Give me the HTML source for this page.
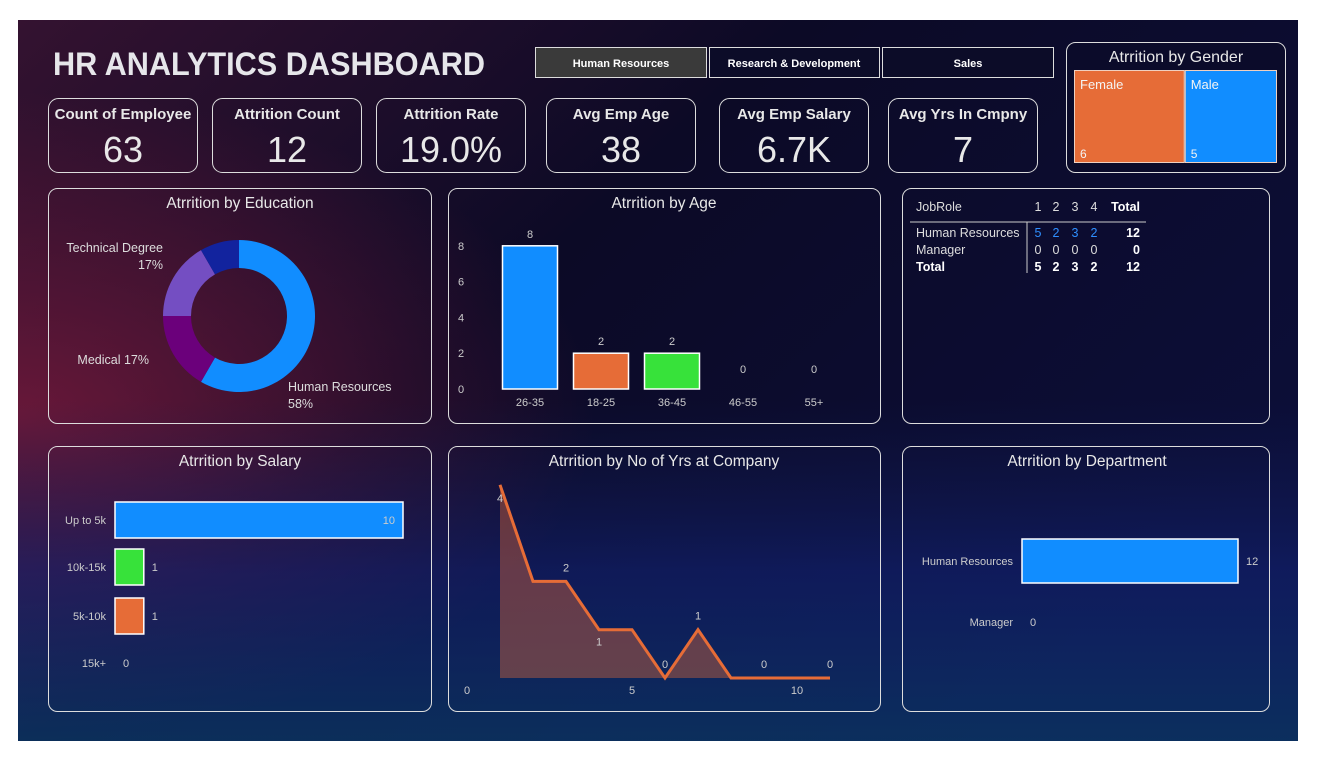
<!DOCTYPE html>
<html><head><meta charset="utf-8"><style>
html,body{margin:0;padding:0;background:#fff;}
svg{display:block;font-family:"Liberation Sans","DejaVu Sans",sans-serif;}
</style></head><body>
<svg id="dash" width="1320" height="763" viewBox="0 0 1320 763">
<defs>
<linearGradient id="bg" x1="0" y1="0" x2="1" y2="0.6">
<stop offset="0" stop-color="#341230"/><stop offset="0.45" stop-color="#0c0a26"/><stop offset="1" stop-color="#0c0e38"/>
</linearGradient>
<radialGradient id="glowL" cx="0" cy="0.55" r="0.45">
<stop offset="0" stop-color="#7a1a3c" stop-opacity="0.8"/><stop offset="1" stop-color="#7a1a3c" stop-opacity="0"/>
</radialGradient>
<linearGradient id="bottom" x1="0" y1="0" x2="0" y2="1">
<stop offset="0" stop-color="#10205a" stop-opacity="0"/><stop offset="0.5" stop-color="#12257a" stop-opacity="0.55"/><stop offset="1" stop-color="#0b3a6a" stop-opacity="0.75"/>
</linearGradient>
</defs>
<rect x="18" y="20" width="1280" height="721" fill="url(#bg)"/>
<rect x="18" y="20" width="1280" height="721" fill="url(#glowL)"/>
<rect x="18" y="400" width="1280" height="341" fill="url(#bottom)"/>

<text x="53" y="75" font-size="32" font-weight="bold" fill="#e6e6ea" textLength="432" lengthAdjust="spacingAndGlyphs">HR ANALYTICS DASHBOARD</text>

<g>
<g><rect x="535.5" y="47.5" width="171" height="30" fill="#3a3a3a" stroke="#ddd"/><text x="621" y="67" font-size="11" font-weight="bold" fill="#fff" text-anchor="middle">Human Resources</text></g>
<g><rect x="709.5" y="47.5" width="170" height="30" fill="#0c0c28" stroke="#ddd"/><text x="794" y="67" font-size="11" font-weight="bold" fill="#fff" text-anchor="middle">Research &amp; Development</text></g>
<g><rect x="882.5" y="47.5" width="171" height="30" fill="#0c0c28" stroke="#ddd"/><text x="968" y="67" font-size="11" font-weight="bold" fill="#fff" text-anchor="middle">Sales</text></g>
</g>

<g id="kpis"></g>

<g>
<rect x="1066.5" y="42.5" width="219" height="130" rx="9" fill="#0b0b2a" stroke="#ddd"/>
<text x="1176" y="62" font-size="16" fill="#e8e8e8" text-anchor="middle">Atrrition by Gender</text>
<g id="gender"></g>
</g>

<g>
<rect x="48.5" y="188.5" width="383" height="235" rx="9" fill="none" stroke="#ddd"/>
<text x="240" y="208" font-size="15.5" fill="#e8e8e8" text-anchor="middle">Atrrition by Education</text>
<g id="donut"></g>
</g>

<g>
<rect x="448.5" y="188.5" width="432" height="235" rx="9" fill="none" stroke="#ddd"/>
<text x="664" y="208" font-size="15.5" fill="#e8e8e8" text-anchor="middle">Atrrition by Age</text>
<g id="age"></g>
</g>

<g>
<rect x="902.5" y="188.5" width="367" height="235" rx="9" fill="none" stroke="#ddd"/>
<g font-size="12.5" fill="#ddd">
<text x="916" y="211">JobRole</text>
<text x="1038" y="211" text-anchor="middle">1</text><text x="1056" y="211" text-anchor="middle">2</text><text x="1075" y="211" text-anchor="middle">3</text><text x="1094" y="211" text-anchor="middle">4</text>
<text x="1140" y="211" text-anchor="end" font-weight="bold" fill="#fff">Total</text>
<line x1="910" y1="222" x2="1146" y2="222" stroke="#ccc"/>
<line x1="1027" y1="222" x2="1027" y2="273" stroke="#ccc"/>
<text x="916" y="237">Human Resources</text>
<g fill="#2f8fff"><text x="1038" y="237" text-anchor="middle">5</text><text x="1056" y="237" text-anchor="middle">2</text><text x="1075" y="237" text-anchor="middle">3</text><text x="1094" y="237" text-anchor="middle">2</text></g>
<text x="1140" y="237" text-anchor="end" font-weight="bold" fill="#fff">12</text>
<text x="916" y="254">Manager</text>
<text x="1038" y="254" text-anchor="middle">0</text><text x="1056" y="254" text-anchor="middle">0</text><text x="1075" y="254" text-anchor="middle">0</text><text x="1094" y="254" text-anchor="middle">0</text>
<text x="1140" y="254" text-anchor="end" font-weight="bold" fill="#fff">0</text>
<g font-weight="bold" fill="#fff"><text x="916" y="271">Total</text>
<text x="1038" y="271" text-anchor="middle">5</text><text x="1056" y="271" text-anchor="middle">2</text><text x="1075" y="271" text-anchor="middle">3</text><text x="1094" y="271" text-anchor="middle">2</text>
<text x="1140" y="271" text-anchor="end">12</text></g>
</g>
</g>

<g>
<rect x="48.5" y="446.5" width="383" height="265" rx="9" fill="none" stroke="#ddd"/>
<text x="240" y="466" font-size="15.5" fill="#e8e8e8" text-anchor="middle">Atrrition by Salary</text>
<g id="salary"></g>
</g>

<g>
<rect x="448.5" y="446.5" width="432" height="265" rx="9" fill="none" stroke="#ddd"/>
<text x="664" y="466" font-size="15.5" fill="#e8e8e8" text-anchor="middle">Atrrition by No of Yrs at Company</text>
<g id="years"></g>
</g>

<g>
<rect x="902.5" y="446.5" width="367" height="265" rx="9" fill="none" stroke="#ddd"/>
<text x="1087" y="466" font-size="15.5" fill="#e8e8e8" text-anchor="middle">Atrrition by Department</text>
<g id="dept"></g>
</g>
</svg>
<script>
const kpiLabels=["Count of Employee","Attrition Count","Attrition Rate","Avg Emp Age","Avg Emp Salary","Avg Yrs In Cmpny"];
const kpiValues=["63","12","19.0%","38","6.7K","7"];
const genderCats=["Female","Male"];
const genderVals=[6,5];
const eduCats=["Human Resources","Medical","Technical Degree","Other"];
const eduVals=[7,2,2,1];
const ageCats=["26-35","18-25","36-45","46-55","55+"];
const ageVals=[8,2,2,0,0];
const ageTicks=[0,2,4,6,8];
const salaryCats=["Up to 5k","10k-15k","5k-10k","15k+"];
const salaryVals=[10,1,1,0];
const yearsX=[1,2,3,4,5,6,7,8,9,10,11];
const yearsVals=[4,2,2,1,1,0,1,0,0,0,0];
const yearsTicks=[0,5,10];
const deptCats=["Human Resources","Manager"];
const deptVals=[12,0];

const NS="http://www.w3.org/2000/svg";
function mk(parent,tag,attrs,txt){const e=document.createElementNS(NS,tag);for(const k in attrs)e.setAttribute(k,attrs[k]);if(txt!==undefined)e.textContent=txt;parent.appendChild(e);return e;}
const BLUE="#118DFF",ORANGE="#E66C37",GREEN="#37E23A";

const kx=[48,212,376,546,719,888];
const kg=document.getElementById('kpis');
kpiLabels.forEach((l,i)=>{
 const g=mk(kg,'g',{});
 
 
 mk(g,'rect',{x:kx[i]+.5,y:98.5,width:149,height:74,rx:10,fill:'none',stroke:'#ddd'});
 mk(g,'text',{x:kx[i]+75,y:119,'font-size':15,'font-weight':'bold',fill:'#e8e8e8','text-anchor':'middle'},l);
 mk(g,'text',{x:kx[i]+75,y:162,'font-size':36,fill:'#e8e8e8','text-anchor':'middle'},kpiValues[i]);
});

const gg=document.getElementById('gender');
const gTot=genderVals.reduce((a,b)=>a+b,0);const gW=203;let gx=1074;
genderVals.forEach((v,i)=>{
 const w=gW*v/gTot;
 const r=mk(gg,'rect',{x:gx+.5,y:70.5,width:w-1,height:92,fill:i?BLUE:ORANGE,stroke:'#f0d0c0'});
 
 
 mk(gg,'text',{x:gx+6,y:89,'font-size':13,fill:'#f4f4f4'},genderCats[i]);
 mk(gg,'text',{x:gx+6,y:158,'font-size':12,fill:'#f4f4f4'},v);
 gx+=w;
});

const dg=document.getElementById('donut');
const cx=239,cy=316,R=76,r0=48;const eTot=eduVals.reduce((a,b)=>a+b,0);
const eCols=[BLUE,"#6B007B","#744EC2","#12239E"];
let a0=-Math.PI/2;
eduVals.forEach((v,i)=>{
 const a1=a0+2*Math.PI*v/eTot;const big=(a1-a0)>Math.PI?1:0;
 const p=(a,rr)=>[cx+rr*Math.cos(a),cy+rr*Math.sin(a)];
 const [x1,y1]=p(a0,R),[x2,y2]=p(a1,R),[x3,y3]=p(a1,r0),[x4,y4]=p(a0,r0);
 const s=mk(dg,'path',{d:`M${x1},${y1}A${R},${R} 0 ${big} 1 ${x2},${y2}L${x3},${y3}A${r0},${r0} 0 ${big} 0 ${x4},${y4}Z`,fill:eCols[i]});
 
 
 a0=a1;
});
const pct=v=>Math.round(100*v/eTot)+'%';
mk(dg,'text',{x:288,y:391,'font-size':12.5,fill:'#ddd'},eduCats[0]);
mk(dg,'text',{x:288,y:408,'font-size':12.5,fill:'#ddd'},pct(eduVals[0]));
mk(dg,'text',{x:149,y:364,'font-size':12.5,fill:'#ddd','text-anchor':'end'},eduCats[1]+' '+pct(eduVals[1]));
mk(dg,'text',{x:163,y:252,'font-size':12.5,fill:'#ddd','text-anchor':'end'},eduCats[2]);
mk(dg,'text',{x:163,y:269,'font-size':12.5,fill:'#ddd','text-anchor':'end'},pct(eduVals[2]));

const ag=document.getElementById('age');
const aBase=389,aScale=17.9,ay=v=>aBase-v*aScale,ax=i=>530+i*71;
ageTicks.forEach(t=>mk(ag,'text',{x:461,y:ay(t)+4,'font-size':11,fill:'#ccc','text-anchor':'middle'},t));
const aCols=[BLUE,ORANGE,GREEN,GREEN,GREEN];
ageVals.forEach((v,i)=>{
 if(v>0){const b=mk(ag,'rect',{x:ax(i)-27.5,y:ay(v),width:55,height:v*aScale,fill:aCols[i],stroke:'#fff','stroke-width':1.5});
 
 }
 mk(ag,'text',{x:ax(i),y:(v>0?ay(v):aBase-8)-8,'font-size':11,fill:'#ccc','text-anchor':'middle'},v);
 mk(ag,'text',{x:ax(i),y:406,'font-size':11,fill:'#ccc','text-anchor':'middle'},ageCats[i]);
});

const sg=document.getElementById('salary');
const sx0=115,sScale=28.8,sy=i=>[520,567,616,663][i];
const sCols=[BLUE,GREEN,ORANGE,GREEN];
salaryVals.forEach((v,i)=>{
 const y=sy(i);
 if(v>0){const b=mk(sg,'rect',{x:sx0,y:y-18,width:v*sScale,height:36,fill:sCols[i],stroke:'#fff','stroke-width':1.5});
 
 }
 mk(sg,'text',{x:106,y:y+4,'font-size':11,fill:'#ccc','text-anchor':'end'},salaryCats[i]);
 const lx=v>=5?sx0+v*sScale-8:sx0+v*sScale+8;
 mk(sg,'text',{x:lx,y:y+4,'font-size':11,fill:'#ccc','text-anchor':v>=5?'end':'start'},v);
});

const yg=document.getElementById('years');
const yx=v=>467+v*33,yy=v=>678-v*48.3;
let d='';yearsX.forEach((x,i)=>d+=(i?'L':'M')+yx(x)+','+yy(yearsVals[i]));
mk(yg,'path',{d:d+`L${yx(yearsX[yearsX.length-1])},678L${yx(yearsX[0])},678Z`,fill:'#e66c37','fill-opacity':0.4});
const ln=mk(yg,'path',{d:d,fill:'none',stroke:ORANGE,'stroke-width':3,'stroke-linejoin':'miter'});


yearsTicks.forEach(t=>mk(yg,'text',{x:yx(t),y:694,'font-size':11,fill:'#ccc','text-anchor':'middle'},t));
const lblIdx=[0,2,3,5,6,8,10];
lblIdx.forEach(i=>{
 const v=yearsVals[i];let ty=yy(v)-10;
 if(i===0)ty=yy(v)+17; if(i===3)ty=yy(v)+16;
 mk(yg,'text',{x:yx(yearsX[i]),y:ty,'font-size':11,fill:'#ccc','text-anchor':'middle'},v);
});

const pg=document.getElementById('dept');
const px0=1022,pScale=18,py=i=>[561,622][i];
deptVals.forEach((v,i)=>{
 const y=py(i);
 if(v>0){const b=mk(pg,'rect',{x:px0,y:y-22,width:v*pScale,height:44,fill:BLUE,stroke:'#fff','stroke-width':1.5});
 
 }
 mk(pg,'text',{x:1013,y:y+4,'font-size':11,fill:'#ccc','text-anchor':'end'},deptCats[i]);
 mk(pg,'text',{x:px0+v*pScale+8,y:y+4,'font-size':11,fill:'#ccc'},v);
});
</script>
</body></html>
